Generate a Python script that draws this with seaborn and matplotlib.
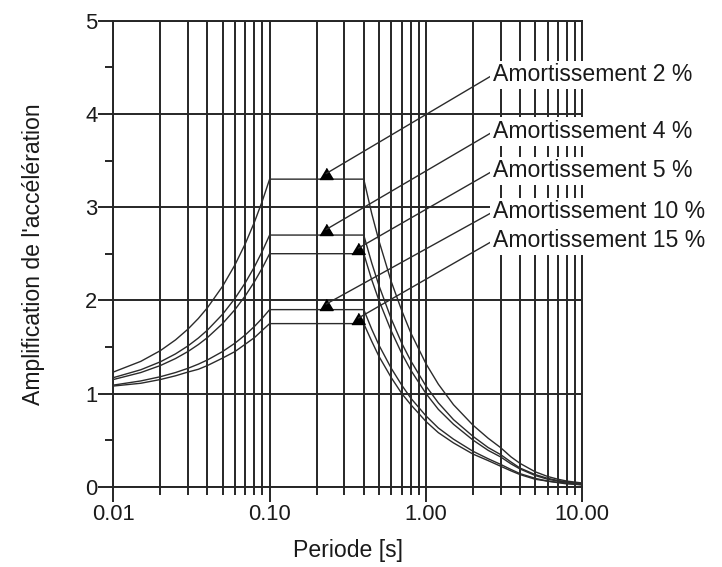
import numpy as np
import pandas as pd
import matplotlib
matplotlib.use("Agg")
import matplotlib.pyplot as plt
import seaborn as sns
from matplotlib.ticker import FixedLocator, FuncFormatter, NullFormatter, MultipleLocator

# ---------------- data ----------------
periods = [0.01, 0.015, 0.02, 0.025, 0.03, 0.035, 0.04, 0.05, 0.06, 0.07, 0.08, 0.09, 0.10,
           0.40, 0.45, 0.50, 0.60, 0.70, 0.80, 1.0, 1.2, 1.5, 2.0, 2.5,
           3.0, 3.5, 4.0, 5.0, 6.0, 7.0, 8.0, 10.0]

amp_2 = [1.23, 1.345, 1.46, 1.575, 1.69, 1.805, 1.92, 2.15, 2.38, 2.61, 2.84, 3.07, 3.30,
         3.30, 2.93, 2.64, 2.20, 1.89, 1.65, 1.32, 1.10, 0.88, 0.66, 0.52,
         0.42, 0.32, 0.25, 0.16, 0.11, 0.08, 0.06, 0.04]
amp_4 = [1.17, 1.255, 1.34, 1.425, 1.51, 1.595, 1.68, 1.85, 2.02, 2.19, 2.36, 2.53, 2.70,
         2.70, 2.40, 2.16, 1.80, 1.54, 1.35, 1.08, 0.90, 0.72, 0.54, 0.42,
         0.345, 0.265, 0.20, 0.13, 0.09, 0.066, 0.05, 0.03]
amp_5 = [1.15, 1.225, 1.30, 1.375, 1.45, 1.525, 1.60, 1.75, 1.90, 2.05, 2.20, 2.35, 2.50,
         2.50, 2.22, 2.00, 1.67, 1.43, 1.25, 1.00, 0.83, 0.67, 0.50, 0.39,
         0.32, 0.245, 0.19, 0.12, 0.08, 0.06, 0.05, 0.03]
amp_10 = [1.09, 1.135, 1.18, 1.225, 1.27, 1.315, 1.36, 1.45, 1.54, 1.63, 1.72, 1.81, 1.90,
          1.90, 1.69, 1.52, 1.27, 1.09, 0.95, 0.76, 0.63, 0.51, 0.38, 0.30,
          0.24, 0.185, 0.14, 0.09, 0.06, 0.047, 0.04, 0.02]
amp_15 = [1.08, 1.11, 1.15, 1.19, 1.23, 1.26, 1.30, 1.38, 1.45, 1.53, 1.60, 1.68, 1.75,
          1.75, 1.56, 1.40, 1.17, 1.00, 0.88, 0.70, 0.58, 0.47, 0.35, 0.28,
          0.22, 0.17, 0.13, 0.08, 0.06, 0.043, 0.03, 0.02]

series_labels = ["Amortissement 2 %", "Amortissement 4 %", "Amortissement 5 %",
                 "Amortissement 10 %", "Amortissement 15 %"]
series_values = [amp_2, amp_4, amp_5, amp_10, amp_15]
arrow_periods = [0.23, 0.23, 0.37, 0.23, 0.37]
plateau_values = [3.30, 2.70, 2.50, 1.90, 1.75]

x_major = [0.01, 0.1, 1.0, 10.0]

# layout of the annotation texts (period of left edge, baseline amplification)
text_x = 2.69
text_y = [4.35, 3.74, 3.32, 2.88, 2.57]

# ---------------- style ----------------
sns.set_style("white")
plt.rcParams["font.family"] = ["Liberation Sans", "DejaVu Sans"]

gc = "#262626"
glw = 1.4

fig = plt.figure(figsize=(7.22, 5.67), dpi=100)
ax = fig.add_axes([0.1569, 0.1416, 0.6496, 0.8219])

rows = []
for lab, vals in zip(series_labels, series_values):
    for t, v in zip(periods, vals):
        rows.append({"Periode": t, "Amplification": v, "Amortissement": lab})
df = pd.DataFrame(rows)

sns.lineplot(data=df, x="Periode", y="Amplification", hue="Amortissement",
             palette=["#2b2b2b"] * 5, estimator=None, sort=False, legend=False,
             linewidth=1.0, ax=ax, zorder=3)

ax.set_xscale("log")
ax.set_xlim(0.01, 10)
ax.set_ylim(0, 5)

minor = [k * 10.0 ** e for e in (-2, -1, 0) for k in range(2, 10)]
ax.xaxis.set_major_locator(FixedLocator(x_major))
ax.xaxis.set_minor_locator(FixedLocator(minor))
ax.xaxis.set_major_formatter(FuncFormatter(lambda v, p: f"{v:.2f}"))
ax.xaxis.set_minor_formatter(NullFormatter())
ax.yaxis.set_major_locator(MultipleLocator(1))
ax.yaxis.set_minor_locator(MultipleLocator(0.5))
ax.yaxis.set_major_formatter(FuncFormatter(lambda v, p: f"{v:.0f}"))

ax.grid(True, which="both", axis="x", color=gc, linewidth=glw)
ax.grid(True, which="major", axis="y", color=gc, linewidth=glw)
ax.set_axisbelow(True)

ax.tick_params(axis="both", which="both", direction="out", color=gc,
               width=glw, bottom=True, left=True, labelsize=15.8,
               labelcolor="#1a1a1a")
ax.tick_params(axis="both", which="major", length=10.8)
ax.tick_params(axis="both", which="minor", length=5.8)
ax.tick_params(axis="y", which="major", pad=0.5)
ax.tick_params(axis="x", which="major", pad=1.5)

for s in ax.spines.values():
    s.set_visible(True)
    s.set_color(gc)
    s.set_linewidth(glw)

ax.set_xlabel("Periode [s]", fontsize=16.6, color="#1a1a1a")
ax.set_ylabel("Amplification de l'accélération", fontsize=16.6, color="#1a1a1a")
ax.xaxis.set_label_coords(0.5, -0.112)
ax.yaxis.set_label_coords(-0.1456, 0.5)

# triangles sitting on plateaus
tri = [(-0.6, 0.0), (0.6, 0.0), (0.0, 1.0)]
for t, p in zip(arrow_periods, plateau_values):
    ax.plot([t], [p], marker=tri, markersize=16, color="black",
            linestyle="none", zorder=5, clip_on=False)

for lab, ty, t, p in zip(series_labels, text_y, arrow_periods, plateau_values):
    ax.annotate(lab, xy=(t, p + 0.06), xytext=(text_x, ty),
                textcoords="data", ha="left", va="baseline",
                fontsize=16.6, color="#1a1a1a",
                bbox=dict(boxstyle="square,pad=0.12", fc="white", ec="none"),
                arrowprops=dict(arrowstyle="-", color="#2b2b2b", lw=1.0,
                                shrinkA=0, shrinkB=0, relpos=(0.0, 0.5)),
                annotation_clip=False, zorder=6)

fig.savefig("out.png", dpi=100)
